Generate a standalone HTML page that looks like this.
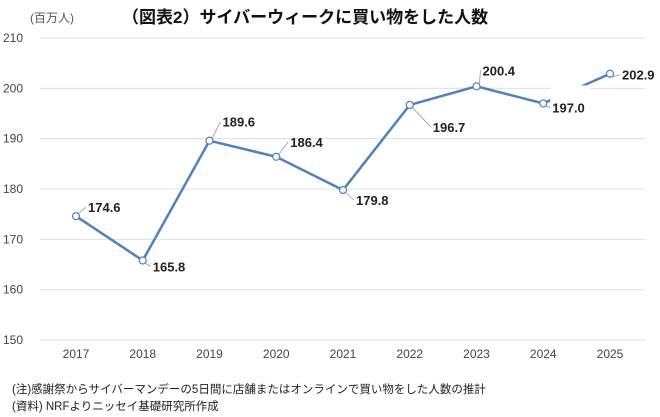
<!DOCTYPE html>
<html><head><meta charset="utf-8">
<style>
body{margin:0;background:#fff;width:660px;height:417px;overflow:hidden;font-family:"Liberation Sans","Noto Sans CJK JP",sans-serif;}
svg{display:block}
</style></head>
<body>
<svg id="chart" width="660" height="417" xmlns="http://www.w3.org/2000/svg">
<text x="30" y="22" font-size="12" fill="#555">(百万人)</text>
<text x="122" y="23" font-size="17" font-weight="bold" fill="#111">（図表2）サイバーウィークに買い物をした人数</text>
<g id="grid"></g>
<g id="xt"></g>
<g id="series"></g>
<text x="12" y="393" font-size="11.5" fill="#222">(注)感謝祭からサイバーマンデーの5日間に店舗またはオンラインで買い物をした人数の推計</text>
<text x="12" y="410" font-size="11.5" fill="#222">(資料) NRFよりニッセイ基礎研究所作成</text>
</svg>
<script>
const years=["2017","2018","2019","2020","2021","2022","2023","2024","2025"];
const values=[174.6,165.8,189.6,186.4,179.8,196.7,200.4,197.0,202.9];
const yTicks=[150,160,170,180,190,200,210];
const labelOff=[[12,-9],[10,6],[13,-19],[14,-15],[13,10],[23,22],[6,-16],[9,4],[12,1]];
const NS="http://www.w3.org/2000/svg";
function yS(v){return 340-(v-150)*(302/60);}
function xS(i){return 76+i*66.75;}
function mk(t,a,p){const e=document.createElementNS(NS,t);for(const k in a)e.setAttribute(k,a[k]);p.appendChild(e);return e;}
const grid=document.getElementById('grid'),xt=document.getElementById('xt'),s=document.getElementById('series');
yTicks.forEach(v=>{
 const l=mk('line',{x1:40,x2:645,y1:yS(v),y2:yS(v),stroke:'#e0e0e0','stroke-width':1},grid);
 
 
 const t=mk('text',{x:3,y:yS(v)+4,'font-size':12,fill:'#444'},grid);t.textContent=v;
 
 
});
years.forEach((y,i)=>{
 const t=mk('text',{x:xS(i),y:358,'font-size':12,fill:'#444','text-anchor':'middle'},xt);t.textContent=y;
 
 
});
const pl=mk('polyline',{points:values.map((v,i)=>xS(i)+','+yS(v)).join(' '),fill:'none',stroke:'#4f81bd','stroke-width':2.5},s);


values.forEach((v,i)=>{
 const x=xS(i),y=yS(v),lx=x+labelOff[i][0],ly=y+labelOff[i][1];
 if(i==7){const r=mk('rect',{x:lx-2,y:ly-22,width:40,height:32,fill:'#fff'},s);}
 const ld=mk('line',{x1:x+3,y1:y+(labelOff[i][1]<0?-3:3),x2:lx-2,y2:ly,stroke:'#999','stroke-width':0.8},s);
 
 
 const t=mk('text',{x:lx,y:ly+5,'font-size':13,'font-weight':'bold',fill:'#222'},s);t.textContent=v.toFixed(1);
 
 
});
values.forEach((v,i)=>{
 const c=mk('circle',{cx:xS(i),cy:yS(v),r:3.5,fill:'#fff',stroke:'#4f81bd','stroke-width':1.2},s);
 
 
});
</script>
</body></html>
